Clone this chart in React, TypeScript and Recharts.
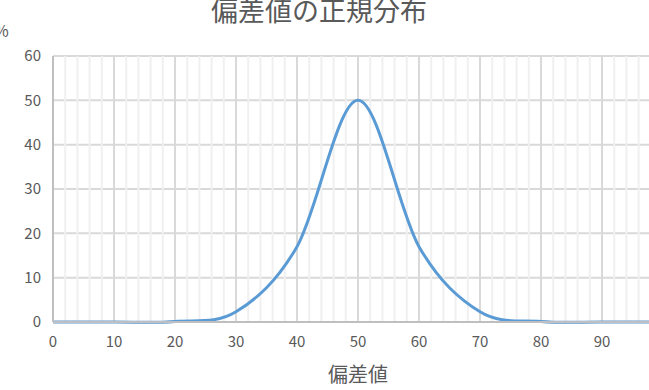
import {
  LineChart,
  Line,
  XAxis,
  YAxis,
  CartesianGrid,
  ReferenceLine,
} from "recharts";

const deviationValues = [0, 10, 20, 30, 40, 50, 60, 70, 80, 90, 100];
const percentValues = [0, 0, 0.13, 2.3, 17, 50, 17, 2.3, 0.13, 0, 0];
const xTicks = [0, 10, 20, 30, 40, 50, 60, 70, 80, 90, 100];
const yTicks = [0, 10, 20, 30, 40, 50, 60];
const minorXValues = [
  2, 4, 6, 8, 12, 14, 16, 18, 22, 24, 26, 28, 32, 34, 36, 38, 42, 44, 46, 48,
  52, 54, 56, 58, 62, 64, 66, 68, 72, 74, 76, 78, 82, 84, 86, 88, 92, 94, 96, 98,
];

const data = deviationValues.map((x, i) => ({ x, pct: percentValues[i] }));

const FONT = '"Noto Sans CJK JP", "Noto Sans", sans-serif';
const TEXT = "#595959";

// Excel-like smoothed line (Catmull-Rom through the points)
function excelSmooth(context: any) {
  let pts: number[][] = [];
  return {
    areaStart() {},
    areaEnd() {},
    lineStart() {
      pts = [];
    },
    point(x: number, y: number) {
      pts.push([+x, +y]);
    },
    lineEnd() {
      const n = pts.length;
      if (!n) return;
      context.moveTo(pts[0][0], pts[0][1]);
      for (let i = 0; i < n - 1; i++) {
        const p0 = pts[Math.max(i - 1, 0)];
        const p1 = pts[i];
        const p2 = pts[i + 1];
        const p3 = pts[Math.min(i + 2, n - 1)];
        context.bezierCurveTo(
          p1[0] + (p2[0] - p0[0]) / 6,
          p1[1] + (p2[1] - p0[1]) / 6,
          p2[0] - (p3[0] - p1[0]) / 6,
          p2[1] - (p3[1] - p1[1]) / 6,
          p2[0],
          p2[1]
        );
      }
    },
  };
}

export default function App() {
  return (
    <div
      style={{
        position: "absolute",
        left: 0,
        top: 0,
        width: 649,
        height: 390,
        overflow: "hidden",
        background: "#fff",
        fontFamily: FONT,
      }}
    >
      <LineChart
        width={680}
        height={390}
        data={data}
        margin={{ top: 56, right: 17, left: 8, bottom: 38 }}
      >
        {minorXValues.map((v) => (
          <ReferenceLine key={v} x={v} stroke="#f0f0f0" strokeWidth={2} />
        ))}
        <CartesianGrid stroke="#d9d9d9" strokeWidth={2} />
        <XAxis
          dataKey="x"
          type="number"
          domain={[0, 100]}
          ticks={xTicks}
          tickLine={false}
          tickSize={0}
          tickMargin={14}
          stroke="#bfbfbf"
          strokeWidth={2}
          tick={{ fill: TEXT, fontSize: 15, fontFamily: FONT }}
          height={30}
          label={{
            value: "偏差値",
            position: "insideBottom",
            offset: -30,
            fill: TEXT,
            fontSize: 20,
            fontFamily: FONT,
          }}
        />
        <YAxis
          domain={[0, 60]}
          ticks={yTicks}
          tickLine={false}
          tickSize={0}
          tickMargin={12}
          stroke="#bfbfbf"
          strokeWidth={2}
          tick={{ fill: TEXT, fontSize: 15, fontFamily: FONT }}
          width={45}
        />
        <Line
          type={excelSmooth as any}
          dataKey="pct"
          stroke="#5b9bd5"
          strokeWidth={3}
          dot={false}
          isAnimationActive={false}
        />
        <text
          x={319}
          y={21}
          textAnchor="middle"
          fill={TEXT}
          fontSize={27}
          fontFamily={FONT}
        >
          偏差値の正規分布
        </text>
        <text x={-6} y={37} fill={TEXT} fontSize={16} fontFamily={FONT}>
          %
        </text>
      </LineChart>
    </div>
  );
}
